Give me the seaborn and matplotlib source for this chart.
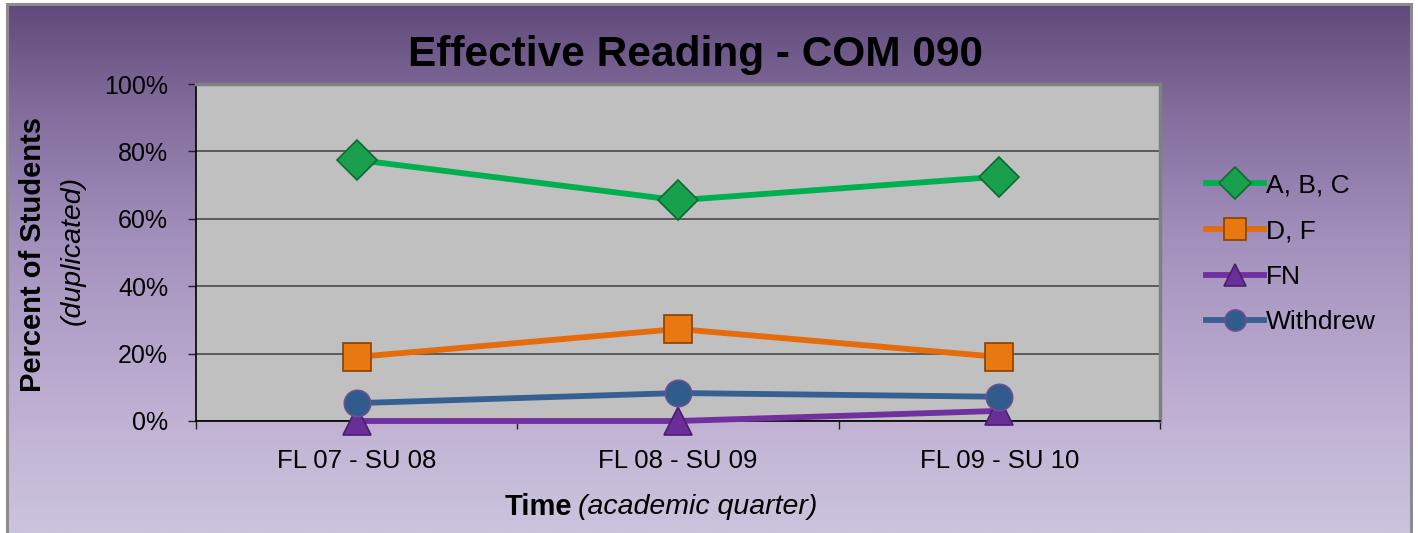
import numpy as np
import pandas as pd
import matplotlib
matplotlib.use("Agg")
import matplotlib.pyplot as plt
from matplotlib.colors import LinearSegmentedColormap
from matplotlib.patches import Rectangle
import seaborn as sns

# ---- data ----
categories = ["FL 07 - SU 08", "FL 08 - SU 09", "FL 09 - SU 10"]
series_names = ["A, B, C", "D, F", "FN", "Withdrew"]
abc = [77.5, 65.5, 72.5]
df_vals = [19.0, 27.3, 19.0]
fn = [0.0, 0.0, 3.0]
withdrew = [5.3, 8.3, 7.2]
yticks = [0, 20, 40, 60, 80, 100]
ytick_labels = ["0%", "20%", "40%", "60%", "80%", "100%"]

line_colors = {"A, B, C": "#00b050", "D, F": "#e46c0a", "FN": "#7030a0", "Withdrew": "#376092"}
marker_faces = {"A, B, C": "#19a04c", "D, F": "#e8780f", "FN": "#6a2e98", "Withdrew": "#2f5c8c"}
marker_edges = {"A, B, C": "#0b6b30", "D, F": "#8a4000", "FN": "#4a1f6c", "Withdrew": "#6e4f90"}
markers = {"A, B, C": "D", "D, F": "s", "FN": "^", "Withdrew": "o"}
msizes = {"A, B, C": 20, "D, F": 20, "FN": 20, "Withdrew": 19}

rows = []
for name, vals in zip(series_names, [abc, df_vals, fn, withdrew]):
    for i, v in enumerate(vals):
        rows.append({"pos": i, "Quarter": categories[i], "Series": name, "Percent": v})
data = pd.DataFrame(rows)

W, H = 1418, 533
fig = plt.figure(figsize=(W / 100, H / 100), dpi=100)
fig.patch.set_facecolor("white")

# gradient background frame
bg_ax = fig.add_axes([7 / W, 0, (1411 - 7) / W, (H - 4) / H])
cmap = LinearSegmentedColormap.from_list(
    "bg", [(0.0, "#5f4a7b"), (0.2, "#826d9d"), (0.45, "#a391bd"), (0.8, "#c2b3d5"), (1.0, "#cbc4dd")])
grad = np.linspace(0, 1, 256).reshape(-1, 1)
bg_ax.imshow(grad, aspect="auto", cmap=cmap, extent=[0, 1, 1, 0])
bg_ax.set_xlim(0, 1)
bg_ax.set_ylim(1, 0)
bg_ax.axis("off")
fig.patches.append(Rectangle((7 / W, -0.01), (1411 - 7) / W, (H - 4) / H + 0.01,
                             transform=fig.transFigure, fill=False, edgecolor="#8c8c8c", linewidth=2.2))

ax = fig.add_axes([196 / W, (H - 421) / H, 964 / W, 337 / H])
ax.set_facecolor("#c0c0c0")

for name in series_names:
    sub = data[data["Series"] == name]
    sns.lineplot(data=sub, x="pos", y="Percent", ax=ax, color=line_colors[name],
                 linewidth=4.2, marker=markers[name], markersize=msizes[name],
                 markerfacecolor=marker_faces[name], markeredgecolor=marker_edges[name],
                 markeredgewidth=1.2, label=name, zorder=3, clip_on=False)

ax.set_xlim(-0.5, len(categories) - 0.5)
ax.set_ylim(0, 100)
ax.set_yticks(yticks)
ax.set_yticklabels(ytick_labels, fontsize=18, family="Liberation Sans")
ax.set_xticks(range(len(categories)))
ax.set_xticklabels(categories, fontsize=18.5, family="Liberation Sans")
ax.set_xticks(np.arange(-0.5, len(categories), 1.0), minor=True)
ax.tick_params(axis="x", which="major", length=0, pad=20)
ax.tick_params(axis="x", which="minor", length=6, width=1, color="#202020", direction="out")
ax.tick_params(axis="y", length=6, width=1, color="#202020", pad=14)
ax.set_xlabel("")
ax.set_ylabel("")
ax.grid(axis="y", color="#404040", linewidth=1.1)
ax.grid(axis="x", visible=False)
ax.set_axisbelow(True)
for s in ["top", "right"]:
    ax.spines[s].set_color("#808080")
    ax.spines[s].set_linewidth(2.5)
for s in ["left", "bottom"]:
    ax.spines[s].set_color("#000000")
    ax.spines[s].set_linewidth(1.2)

# legend
leg = ax.legend(loc="upper left", bbox_to_anchor=(1195 / W, (H - 163) / H),
                bbox_transform=fig.transFigure, frameon=False, handlelength=2.2,
                handletextpad=0.1, labelspacing=0.82, borderaxespad=0,
                prop={"family": "Liberation Sans", "size": 19}, markerscale=0.8)

# title
fig.text(695.5 / W, (H - 55) / H, "Effective Reading - COM 090", ha="center", va="center",
         fontsize=30.5, fontweight="bold", family="Liberation Sans")

# y label
fig.text(33 / W, (H - 255) / H, "Percent of Students", rotation=90, ha="center", va="center",
         fontsize=21, fontweight="bold", family="Liberation Sans")
fig.text(73 / W, (H - 250) / H, "(duplicated)", rotation=90, ha="center", va="center",
         fontsize=20.5, fontstyle="italic", family="Liberation Sans")

# x label
fig.text(572 / W, (H - 507) / H, "Time", ha="right", va="center",
         fontsize=21, fontweight="bold", family="Liberation Sans")
fig.text(578 / W, (H - 507) / H, "(academic quarter)", ha="left", va="center",
         fontsize=20.5, fontstyle="italic", family="Liberation Sans")

fig.savefig("out.png", dpi=100)
